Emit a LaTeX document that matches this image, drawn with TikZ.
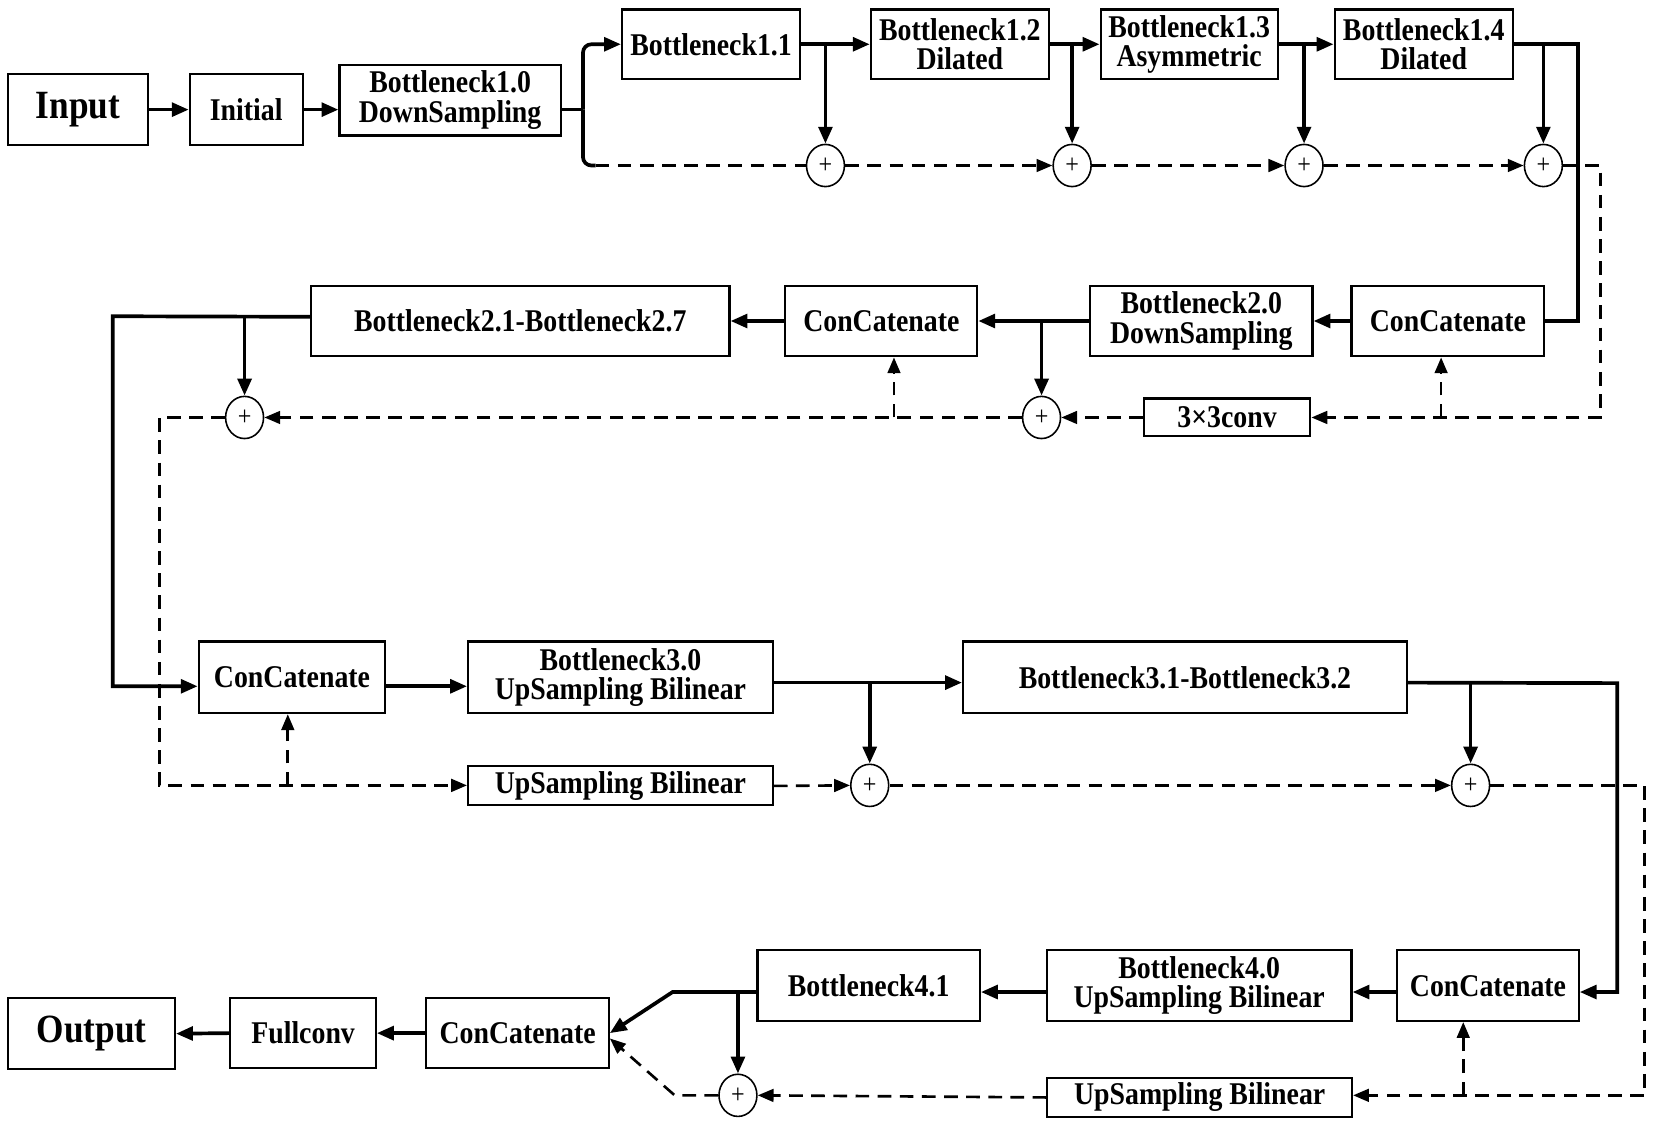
\documentclass[tikz,border=0pt]{standalone}
\usepackage{fontspec}
\setmainfont[FakeStretch=0.88]{Liberation Serif}
\usetikzlibrary{arrows.meta,shapes.geometric,calc}
\begin{document}
\begin{tikzpicture}[x=1pt,y=-1pt,
  box/.style={draw, line width=2pt, rectangle, inner sep=0pt, align=center, font=\fontsize{30}{28}\selectfont\bfseries},
  big/.style={font=\fontsize{38}{40}\selectfont\bfseries},
  plusnode/.style={draw, ellipse, line width=1.5pt, minimum width=36pt, minimum height=40pt, inner sep=0pt, font=\fontsize{26}{26}\selectfont},
  sarrow/.style={line width=3.5pt, -{Triangle[length=16pt,width=13pt]}},
  sline/.style={line width=3.5pt},
  darrow/.style={line width=2.5pt, dash pattern=on 13pt off 8pt, -{Triangle[length=15pt,width=12pt]}},
  dline/.style={line width=2.5pt, dash pattern=on 13pt off 8pt}]
\useasboundingbox (0,0) rectangle (1568,1067);
% Row 1
\node[box,big,minimum width=132pt,minimum height=67pt] (input) at (74,104) {Input};
\node[box,minimum width=107pt,minimum height=67pt] (init) at (233.5,104) {Initial};
\node[box,minimum width=210pt,minimum height=67pt] (b10) at (427,95) {Bottleneck1.0\\DownSampling};
\node[box,minimum width=169pt,minimum height=66pt] (b11) at (674.5,42) {Bottleneck1.1};
\node[box,minimum width=169pt,minimum height=66pt] (b12) at (910.5,42) {Bottleneck1.2\\Dilated};
\node[box,minimum width=168pt,minimum height=66pt] (b13) at (1128,42) {Bottleneck1.3\\Asymmetric};
\node[box,minimum width=169pt,minimum height=66pt] (b14) at (1350.5,42) {Bottleneck1.4\\Dilated};
\node[plusnode] (p1) at (783,157) {+};
\node[plusnode] (p2) at (1017,157) {+};
\node[plusnode] (p3) at (1237,157) {+};
\node[plusnode] (p4) at (1464,157) {+};
% Row 2
\node[box,minimum width=183pt,minimum height=67pt] (c2r) at (1373.5,304.5) {ConCatenate};
\node[box,minimum width=211pt,minimum height=67pt] (b20) at (1139.5,304.5) {Bottleneck2.0\\DownSampling};
\node[box,minimum width=182pt,minimum height=67pt] (c2m) at (836,304.5) {ConCatenate};
\node[box,minimum width=397pt,minimum height=67pt] (b21) at (493.5,304.5) {Bottleneck2.1-Bottleneck2.7};
\node[box,minimum width=158pt,minimum height=36pt] (conv) at (1164,396) {3×3conv};
\node[plusnode] (p5) at (988,396) {+};
\node[plusnode] (p6) at (232,396) {+};
% Row 3
\node[box,minimum width=177pt,minimum height=68pt] (c3) at (277,642.5) {ConCatenate};
\node[box,minimum width=289pt,minimum height=68pt] (b30) at (588.5,642.5) {Bottleneck3.0\\UpSampling Bilinear};
\node[box,minimum width=421pt,minimum height=68pt] (b31) at (1124,642.5) {Bottleneck3.1-Bottleneck3.2};
\node[box,minimum width=289pt,minimum height=37pt] (up3) at (588.5,745.5) {UpSampling Bilinear};
\node[plusnode] (p7) at (825,745) {+};
\node[plusnode] (p8) at (1395,745) {+};
% Row 4
\node[box,big,minimum width=158pt,minimum height=67pt] (out) at (87,980.5) {Output};
\node[box,minimum width=138pt,minimum height=66pt] (full) at (287.5,980) {Fullconv};
\node[box,minimum width=173pt,minimum height=66pt] (c4l) at (491,980) {ConCatenate};
\node[box,minimum width=211pt,minimum height=67pt] (b41) at (824,935) {Bottleneck4.1};
\node[box,minimum width=289pt,minimum height=67pt] (b40) at (1137.5,935) {Bottleneck4.0\\UpSampling Bilinear};
\node[box,minimum width=172pt,minimum height=67pt] (c4r) at (1411.5,935) {ConCatenate};
\node[box,minimum width=289pt,minimum height=37pt] (up4) at (1138,1041) {UpSampling Bilinear};
\node[plusnode] (p9) at (700,1039) {+};
% coordinates
\coordinate (s1) at (553,104);
\coordinate (s1b) at (s1 |- p1);
\coordinate (r1) at (1497,42);
\coordinate (r2) at (1518,157);
\coordinate (q1) at (1367,396);
\coordinate (q2) at (848,396);
\coordinate (l1) at (107,300);
\coordinate (l2) at (107,651);
\coordinate (l3) at (151,396);
\coordinate (l4) at (151,745);
\coordinate (q3) at (273,745);
\coordinate (m1) at ([yshift=-5pt]b30.east);
\coordinate (m2) at ([yshift=-5pt]b31.east);
\coordinate (r3) at (1534,648);
\coordinate (r4) at (1534,941);
\coordinate (r5) at (1560,745);
\coordinate (r6) at (1560,1039);
\coordinate (q4) at (1388,1039);
\coordinate (d1) at (638,941);
\coordinate (d2) at (640,1039);
% Row 1 connectors
\draw[sarrow] (input.east) -- (init.west);
\draw[sarrow] (init.east) -- (init.east -| b10.west);
\draw[sline] ([yshift=-9pt]b10.east) -- (s1);
\draw[sarrow, rounded corners=8pt] (s1) -- (s1 |- b11.west) -- (b11.west);
\draw[sline, rounded corners=8pt] (s1) -- (s1b) -- ([xshift=12pt]s1b);
\draw[dline] ([xshift=12pt]s1b) -- (p1.west);
\draw[sarrow] (b11.east) -- (b12.west);
\draw[sarrow] (b11.east -| p1) -- (p1.north);
\draw[sarrow] (b12.east) -- (b13.west);
\draw[sarrow] (b12.east -| p2) -- (p2.north);
\draw[sarrow] (b13.east) -- (b14.west);
\draw[sarrow] (b13.east -| p3) -- (p3.north);
\draw[sline] (b14.east) -- (r1) -- (r1 |- c2r.east) -- (c2r.east);
\draw[sarrow] (b14.east -| p4) -- (p4.north);
\draw[darrow] (p1.east) -- (p2.west);
\draw[darrow] (p2.east) -- (p3.west);
\draw[darrow] (p3.east) -- (p4.west);
\draw[darrow] (p4.east) -- (r2) -- (r2 |- conv.east) -- (conv.east);
\draw[darrow] (q1) -- (q1 |- c2r.south);
% Row 2 connectors
\draw[sarrow] (c2r.west) -- (b20.east);
\draw[sarrow] (b20.west) -- (c2m.east);
\draw[sarrow] (b20.west -| p5) -- (p5.north);
\draw[darrow] (conv.west) -- (p5.east);
\draw[darrow] (p5.west) -- (p6.east);
\draw[darrow] (q2) -- (q2 |- c2m.south);
\draw[sarrow] (c2m.west) -- (b21.east);
\draw[sarrow] ([yshift=4pt]b21.west) -- (l1) -- (l2) -- (l2 -| c3.west);
\draw[sarrow] (p6 |- l1) -- (p6.north);
\draw[darrow] (p6.west) -- (l3) -- (l4) -- (l4 -| up3.west);
\draw[darrow] (q3) -- (q3 |- c3.south);
% Row 3 connectors
\draw[sarrow] (l2 -| c3.east) -- (l2 -| b30.west);
\draw[sarrow] (m1) -- (m1 -| b31.west);
\draw[sarrow] (m1 -| p7) -- (p7.north);
\draw[darrow] (up3.east) -- (p7.west);
\draw[darrow] (p7.east) -- (p8.west);
\draw[sarrow] (m2) -- (r3) -- (r4) -- (r4 -| c4r.east);
\draw[sarrow] (m2 -| p8) -- (p8.north);
\draw[darrow] (p8.east) -- (r5) -- (r6) -- (r6 -| up4.east);
\draw[darrow] (q4) -- (q4 |- c4r.south);
% Row 4 connectors
\draw[sarrow] (r4 -| c4r.west) -- (r4 -| b40.east);
\draw[sarrow] (r4 -| b40.west) -- (r4 -| b41.east);
\draw[sarrow] (r4 -| b41.west) -- (d1) -- (c4l.east);
\draw[sarrow] (d1 -| p9) -- (p9.north);
\draw[darrow] (up4.west) -- (p9.east);
\draw[darrow] (p9.west) -- (d2) -- ([yshift=-5pt]c4l.east);
\draw[sarrow] (c4l.west) -- (full.east);
\draw[sarrow] (full.west) -- (out.east);
\end{tikzpicture}
\end{document}
